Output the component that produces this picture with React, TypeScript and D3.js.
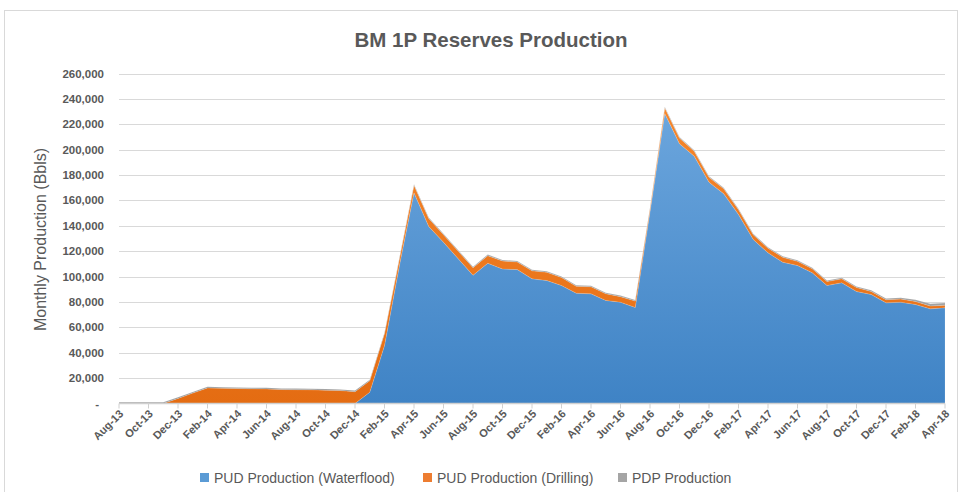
import React from "react";
import * as d3 from "d3";

const months = [
  "Aug-13","Sep-13","Oct-13","Nov-13","Dec-13","Jan-14","Feb-14","Mar-14","Apr-14","May-14","Jun-14","Jul-14",
  "Aug-14","Sep-14","Oct-14","Nov-14","Dec-14","Jan-15","Feb-15","Mar-15","Apr-15","May-15","Jun-15","Jul-15",
  "Aug-15","Sep-15","Oct-15","Nov-15","Dec-15","Jan-16","Feb-16","Mar-16","Apr-16","May-16","Jun-16","Jul-16",
  "Aug-16","Sep-16","Oct-16","Nov-16","Dec-16","Jan-17","Feb-17","Mar-17","Apr-17","May-17","Jun-17","Jul-17",
  "Aug-17","Sep-17","Oct-17","Nov-17","Dec-17","Jan-18","Feb-18","Mar-18","Apr-18",
];

const waterflood = [
  0, 0, 0, 0, 0, 0, 0, 0, 0, 0, 0, 0,
  0, 0, 0, 0, 0, 8900, 45700, 108000, 166000, 139500, 127000, 114000,
  101000, 110500, 106000, 105500, 98200, 96900, 93000, 86900, 86400, 81200, 79800, 75700,
  151000, 228500, 204600, 194900, 174400, 165200, 148900, 129200, 118700, 111300, 108700, 103000,
  93000, 95100, 88200, 85900, 79300, 79800, 78000, 74600, 75400,
];

const drilling = [
  0, 0, 0, 0, 4000, 8200, 12300, 12000, 11800, 11600, 11500, 11000,
  10900, 10800, 10500, 10200, 9300, 9000, 9500, 5500, 6000, 6300, 6000, 6000,
  6000, 6000, 6300, 6000, 6300, 6500, 6300, 5400, 5600, 5300, 4400, 5000,
  2500, 4500, 4500, 3800, 3800, 4000, 3800, 3700, 3700, 3900, 3300, 3200,
  3100, 3100, 3200, 2400, 2500, 2500, 2400, 2200, 2000,
];

const pdp = [
  1000, 1000, 1000, 1000, 900, 900, 900, 900, 900, 900, 900, 900,
  900, 900, 900, 900, 900, 800, 800, 800, 800, 800, 800, 800,
  800, 800, 800, 800, 800, 800, 800, 800, 800, 800, 800, 800,
  800, 800, 800, 800, 800, 800, 800, 800, 800, 800, 800, 800,
  800, 800, 800, 1000, 1000, 1100, 1300, 1800, 1800,
];

const yTicks = [0, 20000, 40000, 60000, 80000, 100000, 120000, 140000, 160000, 180000, 200000, 220000, 240000, 260000];

const seriesNames = ["PUD Production (Waterflood)", "PUD Production (Drilling)", "PDP Production"];
const keys = ["waterflood", "drilling", "pdp"];

const FONT = "'Liberation Sans', Arial, sans-serif";
const TXT = "#595959";

export default function App() {
  const left = 119, right = 945, top = 73.5, bottom = 403.5;
  const x = d3.scalePoint<string>().domain(months).range([left, right]);
  const y = d3.scaleLinear().domain([0, 260000]).range([bottom, top]);

  const rows = months.map((m, i) => ({ month: m, waterflood: waterflood[i], drilling: drilling[i], pdp: pdp[i] }));
  const stacked = d3.stack<any>().keys(keys)(rows);
  const area = d3
    .area<any>()
    .x((d) => x(d.data.month) as number)
    .y0((d) => y(d[0]))
    .y1((d) => y(d[1]));

  const fills = ["url(#gBlue)", "url(#gOrange)", "url(#gGray)"];
  const legendColors = ["#5B9BD5", "#ED7D31", "#A5A5A5"];
  const legendX = [200, 423, 618];
  const fmt = d3.format(",");

  return (
    <svg width={962} height={492} style={{ position: "absolute", left: 0, top: 0, background: "#fff" }}>
      <defs>
        <linearGradient id="gBlue" gradientUnits="userSpaceOnUse" x1="0" y1={top} x2="0" y2={bottom}>
          <stop offset="0" stopColor="#71AAE0" />
          <stop offset="1" stopColor="#3F83C5" />
        </linearGradient>
        <linearGradient id="gOrange" gradientUnits="userSpaceOnUse" x1="0" y1={top} x2="0" y2={bottom}>
          <stop offset="0" stopColor="#F7892F" />
          <stop offset="1" stopColor="#E46C12" />
        </linearGradient>
        <linearGradient id="gGray" gradientUnits="userSpaceOnUse" x1="0" y1={top} x2="0" y2={bottom}>
          <stop offset="0" stopColor="#B4B4B4" />
          <stop offset="1" stopColor="#999999" />
        </linearGradient>
      </defs>
      <rect x={4.5} y={10.5} width={953} height={490} fill="#fff" stroke="#D9D9D9" strokeWidth={1} />

      <text x={491} y={47} textAnchor="middle" fontFamily={FONT} fontWeight="bold" fontSize={20.5} fill={TXT}>
        BM 1P Reserves Production
      </text>

      {yTicks.filter((t) => t > 0).map((t) => (
        <line key={t} x1={left} x2={right} y1={Math.round(y(t)) + 0.5} y2={Math.round(y(t)) + 0.5} stroke="#D9D9D9" strokeWidth={1} />
      ))}

      {stacked.map((s, i) => (
        <path key={s.key} d={area(s) as string} fill={fills[i]} stroke="rgba(255,255,255,0.25)" strokeWidth={0.5} />
      ))}

      <line x1={left} x2={right} y1={bottom} y2={bottom} stroke="#D0D0D0" strokeWidth={1.5} />
      {months.map((m, i) =>
        i % 2 === 0 ? (
          <line key={m} x1={(x(m) as number)} x2={(x(m) as number)} y1={bottom} y2={bottom + 5} stroke="#D0D0D0" strokeWidth={1} />
        ) : null
      )}

      {yTicks.map((t) => (
        <text
          key={t}
          x={t === 0 ? 99 : 104}
          y={y(t) + 4}
          textAnchor="end"
          fontFamily={FONT}
          fontWeight="bold"
          fontSize={11.5}
          fill={TXT}
        >
          {t === 0 ? "-" : fmt(t)}
        </text>
      ))}

      {months.map((m, i) =>
        i % 2 === 0 ? (
          <text
            key={m}
            transform={`translate(${(x(m) as number) + 5},${bottom + 11}) rotate(-45)`}
            textAnchor="end"
            fontFamily={FONT}
            fontWeight="bold"
            fontSize={11}
            fill={TXT}
          >
            {m}
          </text>
        ) : null
      )}

      <text
        transform={`translate(46,${(top + bottom) / 2 + 1}) rotate(-90)`}
        textAnchor="middle"
        fontFamily={FONT}
        fontSize={16}
        fill={TXT}
      >
        Monthly Production (Bbls)
      </text>

      {seriesNames.map((n, i) => (
        <g key={n}>
          <rect x={legendX[i]} y={473} width={9} height={9} fill={legendColors[i]} />
          <text x={legendX[i] + 14} y={483} fontFamily={FONT} fontSize={14} fill={TXT}>
            {n}
          </text>
        </g>
      ))}
    </svg>
  );
}
